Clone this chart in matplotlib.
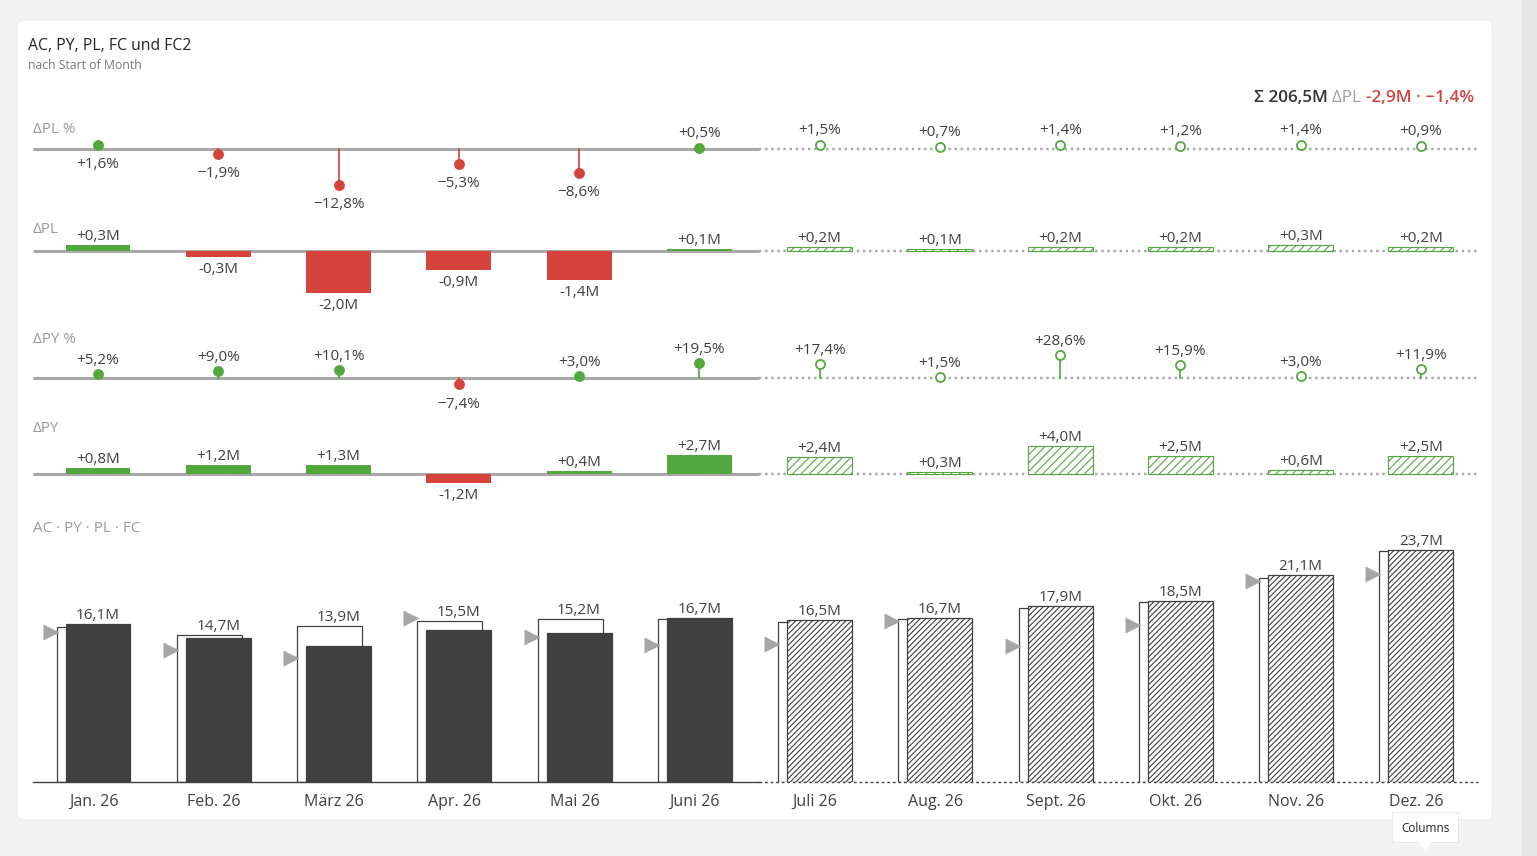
import matplotlib
matplotlib.use('Agg')
import matplotlib.pyplot as plt
from matplotlib.patches import FancyBboxPatch, Rectangle, Polygon

plt.rcParams['font.family'] = ['Open Sans', 'DejaVu Sans']
plt.rcParams['hatch.linewidth'] = 0.8

months = ['Jan. 26', 'Feb. 26', 'März 26', 'Apr. 26', 'Mai 26', 'Juni 26',
          'Juli 26', 'Aug. 26', 'Sept. 26', 'Okt. 26', 'Nov. 26', 'Dez. 26']
is_fc = [False] * 6 + [True] * 6
ac_fc = [16.1, 14.7, 13.9, 15.5, 15.2, 16.7, 16.5, 16.7, 17.9, 18.5, 21.1, 23.7]
pl = [15.8, 15.0, 15.9, 16.4, 16.6, 16.6, 16.3, 16.6, 17.7, 18.3, 20.8, 23.5]
py = [15.3, 13.5, 12.6, 16.7, 14.8, 14.0, 14.1, 16.4, 13.9, 16.0, 20.5, 21.2]
d_pl = [0.3, -0.3, -2.0, -0.9, -1.4, 0.1, 0.2, 0.1, 0.2, 0.2, 0.3, 0.2]
d_pl_pct = [1.6, -1.9, -12.8, -5.3, -8.6, 0.5, 1.5, 0.7, 1.4, 1.2, 1.4, 0.9]
d_py = [0.8, 1.2, 1.3, -1.2, 0.4, 2.7, 2.4, 0.3, 4.0, 2.5, 0.6, 2.5]
d_py_pct = [5.2, 9.0, 10.1, -7.4, 3.0, 19.5, 17.4, 1.5, 28.6, 15.9, 3.0, 11.9]

GREEN = '#52a83e'
RED = '#d6423c'
DARK = '#404040'
TXT = '#404040'
GRAY = '#9a9a9a'
LBL = 11

W, H = 1537, 856
fig = plt.figure(figsize=(W / 100, H / 100), dpi=100)
fig.patch.set_facecolor('#f3f3f3')

# card + scrollbar strip
bg = fig.add_axes([0, 0, 1, 1])
bg.set_xlim(0, W)
bg.set_ylim(H, 0)
bg.axis('off')
bg.add_patch(Rectangle((1522, 0), 15, H, color='#e6e6e6', lw=0))
bg.add_patch(FancyBboxPatch((17, 20), 1475, 800, boxstyle='round,pad=0,rounding_size=6',
                            fc='white', ec='#ececec', lw=0.8))

bg.text(28, 45.5, 'AC, PY, PL, FC und FC2', fontsize=11.3, color='#252525', va='center')
bg.text(28, 65.5, 'nach Start of Month', fontsize=8.8, color='#777777', va='center')

# pixel -> data mapping for x
X0, DX = 98.0, 120.27
AX_L, AX_R = 33, 1478
xlim = ((AX_L - X0) / DX, (AX_R - X0) / DX)
split = 5.5


def panel(top, bottom, base, scale):
    ax = fig.add_axes([AX_L / W, 1 - bottom / H, (AX_R - AX_L) / W, (bottom - top) / H])
    ax.set_xlim(*xlim)
    ax.set_ylim(-(bottom - base) / scale, (base - top) / scale)
    ax.axis('off')
    ax.patch.set_alpha(0)
    return ax


def baseline(ax, color, lw):
    ax.plot([xlim[0], split], [0, 0], color=color, lw=lw, solid_capstyle='butt', zorder=1)
    ax.plot([split, xlim[1]], [0, 0], color=color, lw=lw * 0.8, ls=(0, (1, 1.5)), zorder=1)


def fmt_pct(v):
    return ('+' if v >= 0 else '\u2212') + f'{abs(v):.1f}'.replace('.', ',') + '%'


def fmt_m(v):
    return ('+' if v >= 0 else '-') + f'{abs(v):.1f}'.replace('.', ',') + 'M'


def pin_panel(ax, vals, title, ty, up, down):
    baseline(ax, '#a8a8a8', 2.2)
    for i, v in enumerate(vals):
        c = GREEN if v >= 0 else RED
        ax.plot([i, i], [0, v], color=c, lw=1.2, zorder=2)
        ax.plot(i, v, 'o', ms=6.5, mfc='white' if is_fc[i] else c, mec=c, mew=1.3, zorder=3)
        below = v < 0 or (ax is ax_plp and i == 0)
        off = -down if below else up
        ax.annotate(fmt_pct(v), (i, v), xytext=(0, off - 1.5), textcoords='offset pixels',
                    ha='center', va='center', fontsize=LBL, color=TXT)
    bg.text(33, ty + 1.5, title, fontsize=11, color=GRAY, va='center')


def bar_panel(ax, vals, title, ty):
    baseline(ax, '#a8a8a8', 2.2)
    for i, v in enumerate(vals):
        c = GREEN if v >= 0 else RED
        if is_fc[i]:
            ax.bar(i, v, 0.54, color='white', edgecolor=c, hatch='////', lw=0.8, zorder=2)
        else:
            ax.bar(i, v, 0.54, color=c, lw=0, zorder=2)
        off = 10 if v >= 0 else -11
        ax.annotate(fmt_m(v), (i, v), xytext=(0, off - 1.5), textcoords='offset pixels',
                    ha='center', va='center', fontsize=LBL, color=TXT)
    bg.text(33, ty + 1.5, title, fontsize=11, color=GRAY, va='center')


ax_plp = panel(115, 215, 149, 2.8)
pin_panel(ax_plp, d_pl_pct, '\u0394PL %', 128, 16, 18)

ax_pl = panel(220, 315, 251, 21.0)
bar_panel(ax_pl, d_pl, '\u0394PL', 228)

ax_pyp = panel(325, 420, 378, 0.79)
pin_panel(ax_pyp, d_py_pct, '\u0394PY %', 338, 15, 19)

ax_py = panel(422, 505, 474, 7.1)
bar_panel(ax_py, d_py, '\u0394PY', 427)

# main chart
ax = panel(520, 782, 782, 9.81)
bg.text(33, 528.5, 'AC \u00b7 PY \u00b7 PL \u00b7 FC', fontsize=11, color=GRAY, va='center')
x = list(range(12))
off = -9 / DX
ax.bar([i + off for i in x], pl, 0.54, color='white', edgecolor=DARK, lw=0.9, zorder=2)
for i in x:
    if is_fc[i]:
        ax.bar(i, ac_fc[i], 0.54, color='white', edgecolor=DARK, hatch='//////', lw=0.9, zorder=3)
    else:
        ax.bar(i, ac_fc[i], 0.54, color=DARK, edgecolor=DARK, lw=0.9, zorder=3)
    top = max(ac_fc[i], pl[i])
    ax.annotate(f'{ac_fc[i]:.1f}'.replace('.', ',') + 'M', (i, top), xytext=(0, 8.5),
                textcoords='offset pixels', ha='center', va='center', fontsize=LBL, color=TXT)
    ax.text(i - 4.5 / DX, -19.5 / 9.81, months[i], ha='center', va='center', fontsize=11.5,
            color=TXT, clip_on=False)
# PY triangles
ax.plot([i + off - 0.27 - 6 / DX for i in x], py, marker='>', ls='none', ms=11,
        color='#a6a6a6', mec='none', zorder=4, clip_on=False)
ax.plot([xlim[0], split], [0, 0], color=DARK, lw=1.0, zorder=5, clip_on=False)
ax.plot([split, xlim[1]], [0, 0], color=DARK, lw=1.0, ls=(0, (2, 2)), zorder=5, clip_on=False)

# divider between actual and forecast
bg.plot([755, 755], [115, 782], color='#c8c8c8', lw=1, ls=(0, (1, 3)), zorder=0)

# total at top right
r = fig.canvas.get_renderer()
parts = [('-2,9M \u00b7 \u22121,4%', RED, 'semibold'), ('\u0394PL ', '#a0a0a0', 'normal'),
         ('\u03a3 206,5M ', '#333333', 'semibold')]
xr = 1474
for s, c, w in parts:
    t = bg.text(xr, 97.5, s, ha='right', va='center', fontsize=12.3, color=c, fontweight=w)
    bb = t.get_window_extent(renderer=r)
    xr -= bb.width

# tooltip
bg.add_patch(Rectangle((1392, 812), 66, 30, fc='white', ec='#e4e4e4', lw=0.6))
bg.add_patch(Polygon([[1418, 842], [1432, 842], [1425, 850]], closed=True, fc='white', ec='none'))
bg.text(1425, 828, 'Columns', ha='center', va='center', fontsize=8.5, color='#222222')

fig.savefig('out.png', dpi=100, facecolor=fig.get_facecolor())
